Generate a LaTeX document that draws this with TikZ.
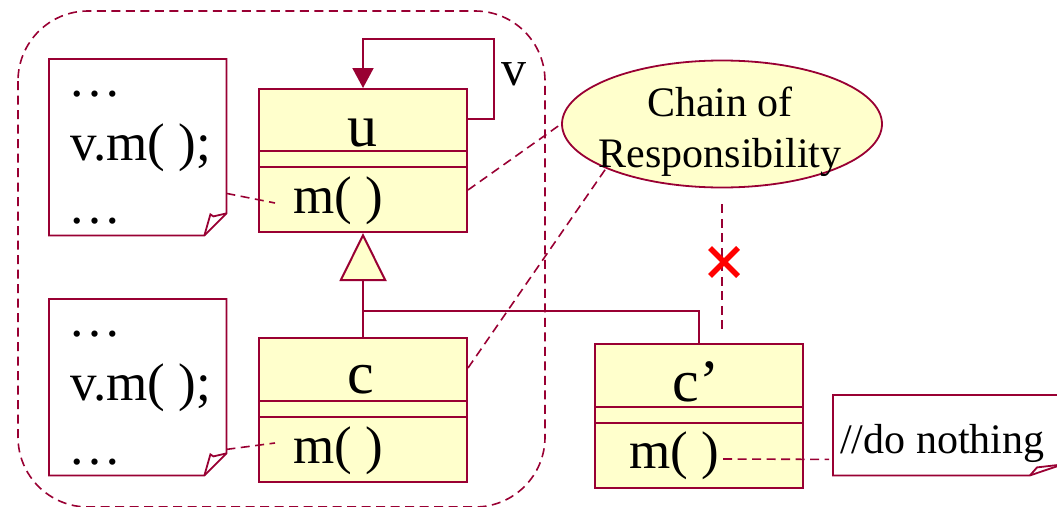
\documentclass[tikz,border=0pt]{standalone}
\usepackage{fontspec}
\setmainfont{Liberation Serif}
\usetikzlibrary{shapes.geometric,arrows.meta,calc}
\definecolor{umlline}{RGB}{153,0,51}
\definecolor{umlfill}{RGB}{255,255,204}
\definecolor{crossred}{RGB}{255,0,0}

% outline of a note with a dog-eared lower right corner
\newcommand{\foldnote}[1]{%
  \draw[noteline] (#1.north west) -- (#1.north east) -- ($(#1.south east)+(0,-22)$)
    -- ($(#1.south east)+(-22,0)$) -- (#1.south west) -- cycle;
  \draw[noteline] ($(#1.south east)+(0,-22)$) -- ($(#1.south east)+(-13,-19)$)
    -- ($(#1.south east)+(-16,-21)$) -- ($(#1.south east)+(-22,0)$);}
% compartment separator inside a class box
\newcommand{\classrule}[2]{%
  \draw[classline] ($(#1.north west)+(0,#2)$) -- ($(#1.north east)+(0,#2)$);}

\begin{document}
\begin{tikzpicture}[x=1pt,y=-1pt,
  classline/.style={draw=umlline,line width=2pt},
  classbox/.style={classline,fill=umlfill,rectangle,anchor=north west,inner sep=0pt,minimum width=208pt},
  noteline/.style={draw=umlline,line width=1.8pt,line join=miter},
  notearea/.style={rectangle,inner sep=0pt,anchor=north west},
  link/.style={draw=umlline,line width=1.6pt,dash pattern=on 9pt off 5.5pt},
  nametext/.style={font=\fontsize{60}{66}\selectfont,inner sep=0pt},
  bigtext/.style={font=\fontsize{53}{60}\selectfont,inner sep=0pt},
  midtext/.style={font=\fontsize{42}{50}\selectfont,inner sep=0pt},
]
\useasboundingbox (0,0) rectangle (1057,506);

% dashed group around the chain
\draw[link,rounded corners=70pt] (18,11) rectangle (545,507);

% notes with client code
\node[notearea,minimum width=177pt,minimum height=176pt] (note1) at (49,59) {};
\foldnote{note1}
\node[bigtext,anchor=base west] (n1a) at (68,96) {…};
\node[bigtext,anchor=base west] (n1b) at (70,160) {v.m( );};
\node[bigtext,anchor=base west] (n1c) at (68,223) {…};

\node[notearea,minimum width=177pt,minimum height=176pt] (note2) at (49,299) {};
\foldnote{note2}
\node[bigtext,anchor=base west] (n2a) at (68,336) {…};
\node[bigtext,anchor=base west] (n2b) at (70,400) {v.m( );};
\node[bigtext,anchor=base west] (n2c) at (68,464) {…};

% inheritance: c and c' derive from u
\coordinate (join) at (362,311);

% class u
\node[classbox,minimum height=143pt] (u) at (258,88) {};
\classrule{u}{63}
\classrule{u}{79}
\node[nametext,anchor=base] (uname) at (362,146) {u};
\node[bigtext,anchor=base west] (um) at (293,213) {m( )};

% class c
\node[classbox,minimum height=144pt] (c) at (258,337) {};
\classrule{c}{64}
\classrule{c}{80}
\node[nametext,anchor=base] (cname) at (361,393) {c};
\node[bigtext,anchor=base west] (cm) at (293,463) {m( )};

% class c'
\node[classbox,minimum height=144pt] (cp) at (594,343) {};
\classrule{cp}{64}
\classrule{cp}{80}
\node[nametext,anchor=base] (cpname) at (696,401) {c’};
\node[bigtext,anchor=base west] (cpm) at (629,468) {m( )};

\draw[classline,-{Triangle[width=47pt,length=48pt,fill=umlfill]}] (c.north) -- (u.south);
\draw[classline] (cp.north) |- (join);

% self association v
\coordinate (uloop) at (494,39);
\draw[classline,-{Triangle[width=21pt,length=20pt]}] ($(u.north east)+(0,31)$) -| (uloop) -| (u.north);
\node[font=\fontsize{50}{56}\selectfont,inner sep=0pt,anchor=base west] (vlabel) at (501,85) {v};

% pattern collaboration
\node[ellipse,draw=umlline,line width=1.8pt,fill=umlfill,minimum width=320pt,minimum height=127pt,inner sep=0pt] (cor) at (722,124) {};
\node[midtext,anchor=base] (cor1) at (720,116) {Chain of};
\node[midtext,anchor=base] (cor2) at (720,167) {Responsibility};

\draw[link] ($(u.north east)+(0,102)$) -- (cor.west);
\draw[link] ($(c.north east)+(0,31)$) -- (cor.201);
\draw[link] ($(cor.south)+(0,16)$) -- ($(cor.south)+(0,145)$);

% broken role binding
\coordinate (veto) at (724,262);
\draw[crossred,line width=5.5pt] ($(veto)+(-14,-14)$) -- ($(veto)+(14,14)$);
\draw[crossred,line width=5.5pt] ($(veto)+(-14,14)$) -- ($(veto)+(14,-14)$);

% note links to the methods
\draw[link] ($(note1.south east)+(0,-42)$) -- ($(um.base west)+(-18,-10)$);
\draw[link] ($(note2.south east)+(0,-26)$) -- ($(cm.base west)+(-18,-20)$);

% empty implementation note
\node[notearea,minimum width=247pt,minimum height=80pt] (note3) at (833,395) {};
\draw[noteline] (note3.north west) -- (note3.north east) -- ($(note3.south east)+(0,-17)$)
  -- ($(note3.south west)+(197,0)$) -- (note3.south west) -- cycle;
\draw[noteline] ($(note3.south west)+(197,0)$) -- ($(note3.south west)+(204,-8)$) -- ($(note3.south east)+(0,-13)$);
\node[midtext,anchor=base west] (n3) at (840,453) {//do nothing};
\draw[link] ($(cpm.base east)+(4,-9)$) -- ($(note3.south west)+(-4,-16)$);
\end{tikzpicture}
\end{document}
